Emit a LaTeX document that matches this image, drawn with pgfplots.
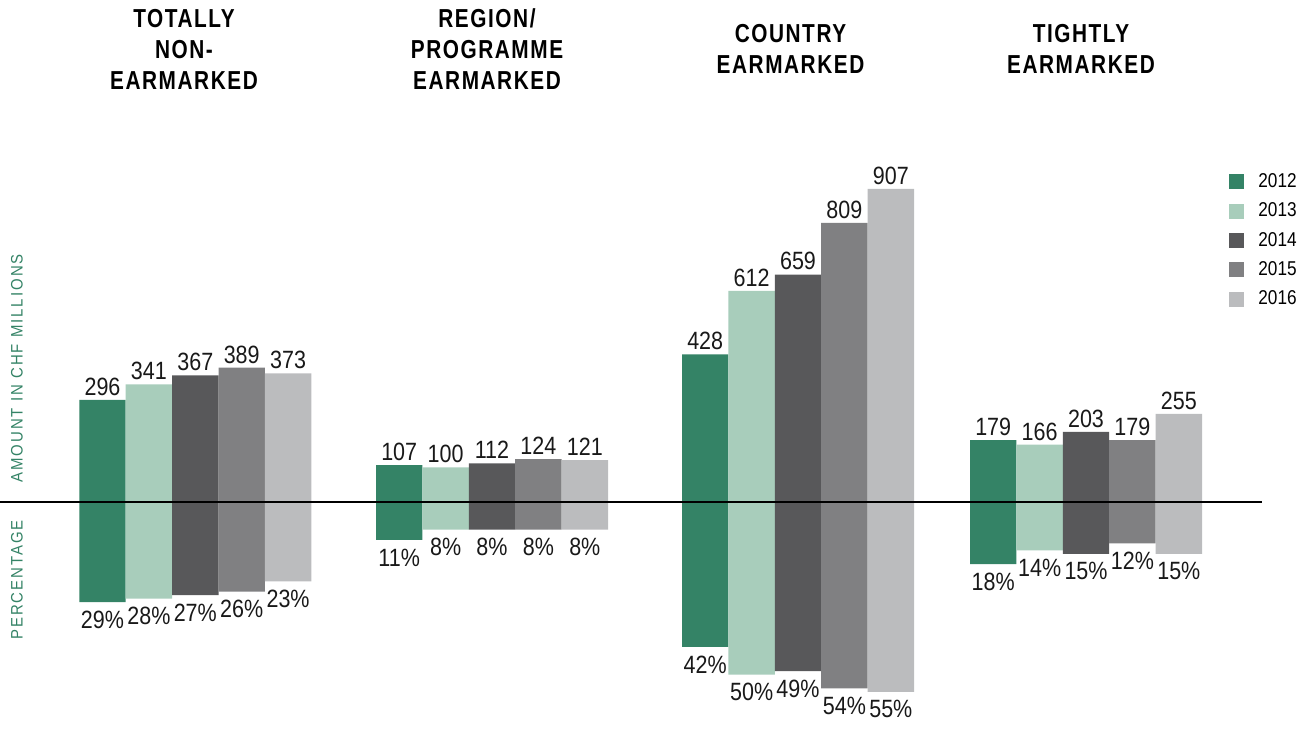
\documentclass[border=0pt]{standalone}
\usepackage{fontspec}
\setmainfont{Liberation Sans}[FakeStretch=0.86]
\newfontfamily\titlefont{Liberation Sans}[FakeStretch=0.8, LetterSpace=6]
\newfontfamily\axfont{Liberation Sans}[FakeStretch=0.9, LetterSpace=12]
\usepackage{pgfplots}
\usepackage{pgfplotstable}
\pgfplotsset{compat=1.18}
\definecolor{cA}{HTML}{348366}
\definecolor{cB}{HTML}{A8CDBB}
\definecolor{cC}{HTML}{58585A}
\definecolor{cD}{HTML}{808082}
\definecolor{cE}{HTML}{BBBCBE}

\pgfplotstableread{
x amt pct
102.5 296 29
399.2 107 11
705.2 428 42
993.2 179 18
}\tA
\pgfplotstableread{
x amt pct
148.9 341 28
445.6 100 8
751.6 612 50
1039.6 166 14
}\tB
\pgfplotstableread{
x amt pct
195.3 367 27
492.0 112 8
798.0 659 49
1086.0 203 15
}\tC
\pgfplotstableread{
x amt pct
241.7 389 26
538.4 124 8
844.4 809 54
1132.4 179 12
}\tD
\pgfplotstableread{
x amt pct
288.1 373 23
584.8 121 8
890.8 907 55
1178.8 255 15
}\tE

\begin{document}
\begin{tikzpicture}
\begin{axis}[
  name=ax,
  scale only axis,
  width=655.5pt, height=365.5pt,
  xmin=0, xmax=1311, ymin=-663.6, ymax=1454.6,
  hide axis, clip=false,
  every node near coord/.append style={font=\fontsize{12.5}{14}\selectfont, text=black!90},
  legend style={at={(axis cs:1229,965)}, anchor=north west, draw=none, fill=none,
    font=\fontsize{10}{11}\selectfont, row sep=2.2pt, inner sep=0pt,
    /tikz/every odd column/.append style={column sep=5pt}},
  legend cell align=left,
  legend image code/.code={\fill[#1] (0pt,-3.75pt) rectangle (7.5pt,3.75pt);},
  amt/.style={ybar, bar width=46.4, bar shift=0pt, draw=none, fill=#1,
    nodes near coords, point meta=explicit symbolic, nodes near coords align=above,
    every node near coord/.append style={inner sep=2pt}},
  pct/.style={ybar, bar width=46.4, bar shift=0pt, draw=none, fill=#1, forget plot,
    nodes near coords={\pgfplotspointmeta\%}, point meta=explicit symbolic, nodes near coords align=below,
    every node near coord/.append style={inner sep=4.2pt}},
]
\addplot[amt=cA] table[x=x, y=amt, meta=amt] {\tA};
\addlegendentry{2012}
\addplot[amt=cB] table[x=x, y=amt, meta=amt] {\tB};
\addlegendentry{2013}
\addplot[amt=cC] table[x=x, y=amt, meta=amt] {\tC};
\addlegendentry{2014}
\addplot[amt=cD] table[x=x, y=amt, meta=amt] {\tD};
\addlegendentry{2015}
\addplot[amt=cE] table[x=x, y=amt, meta=amt] {\tE};
\addlegendentry{2016}
\addplot[pct=cA] table[x=x, y expr=-10*\thisrow{pct}, meta=pct] {\tA};
\addplot[pct=cB] table[x=x, y expr=-10*\thisrow{pct}, meta=pct] {\tB};
\addplot[pct=cC] table[x=x, y expr=-10*\thisrow{pct}, meta=pct] {\tC};
\addplot[pct=cD] table[x=x, y expr=-10*\thisrow{pct}, meta=pct] {\tD};
\addplot[pct=cE] table[x=x, y expr=-10*\thisrow{pct}, meta=pct] {\tE};
\draw[black, line width=0.7pt] (axis cs:0,0) -- (axis cs:1262,0);
\begin{scope}[every node/.style={font=\titlefont\bfseries\fontsize{13}{15.5}\selectfont, align=center, inner sep=0pt}]
\node at (axis cs:184,1312) {TOTALLY\\NON-\\EARMARKED};
\node at (axis cs:487,1312) {REGION/\\PROGRAMME\\EARMARKED};
\node at (axis cs:790.5,1312) {COUNTRY\\EARMARKED};
\node at (axis cs:1081,1312) {TIGHTLY\\EARMARKED};
\end{scope}
\node[rotate=90, font=\axfont\fontsize{8.3}{9}\selectfont, text=cA, inner sep=0pt] at (axis cs:17,387) {AMOUNT IN CHF MILLIONS};
\node[rotate=90, font=\axfont\fontsize{8.3}{9}\selectfont, text=cA, inner sep=0pt] at (axis cs:17,-226) {PERCENTAGE};
\end{axis}
\pgfresetboundingbox
\path (ax.south west) rectangle (ax.north east);
\end{tikzpicture}
\end{document}
